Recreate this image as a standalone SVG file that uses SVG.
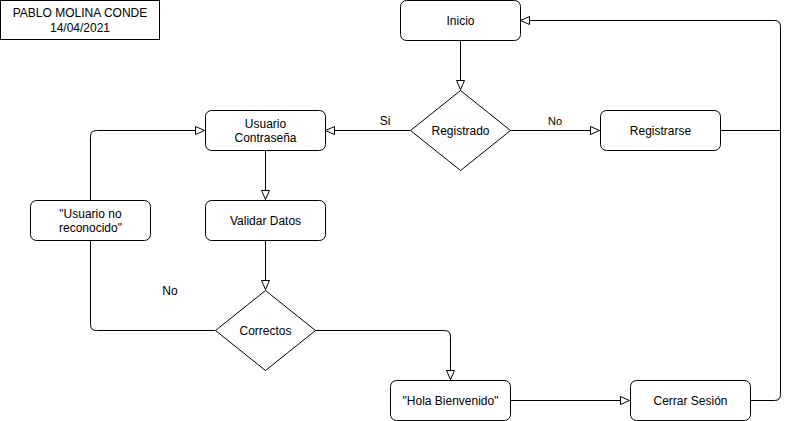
<svg xmlns="http://www.w3.org/2000/svg" width="789" height="421" viewBox="0 0 789 421">
<style>
.box{fill:#fff;stroke:#000;stroke-width:1}
.t{font-family:"Liberation Sans",Arial,sans-serif;font-size:12px;fill:#000;text-anchor:middle}
.s{font-size:11px}
.c{fill:none;stroke:#000;stroke-width:1}
</style>
<defs>
<marker id="a" markerUnits="userSpaceOnUse" markerWidth="12" markerHeight="12" refX="9.5" refY="4" orient="auto" overflow="visible">
<path d="M0.5,0 L9.5,4 L0.5,8 Z" fill="#fff" stroke="#000" stroke-width="1"/>
</marker>
</defs>
<rect width="789" height="421" fill="#fff"/>
<g id="connectors">
<path class="c" d="M460.5,40 V89.5" marker-end="url(#a)"/>
<path class="c" d="M410,130.5 H325.5" marker-end="url(#a)"/>
<path class="c" d="M510,130.5 H599.5" marker-end="url(#a)"/>
<path class="c" d="M720,130.5 H780.5"/>
<path class="c" d="M750,400.5 H774.5 Q780.5,400.5 780.5,394.5 V26.5 Q780.5,20.5 774.5,20.5 H520.5" marker-end="url(#a)"/>
<path class="c" d="M265.5,150 V199.5" marker-end="url(#a)"/>
<path class="c" d="M265.5,240 V289.5" marker-end="url(#a)"/>
<path class="c" d="M215,330.5 H96.5 Q90.5,330.5 90.5,324.5 V240"/>
<path class="c" d="M90.5,200 V136.5 Q90.5,130.5 96.5,130.5 H204.5" marker-end="url(#a)"/>
<path class="c" d="M315,330.5 H444.5 Q450.5,330.5 450.5,336.5 V379.5" marker-end="url(#a)"/>
<path class="c" d="M510,400.5 H629.5" marker-end="url(#a)"/>
<text class="t" x="385" y="125">Si</text>
<text class="t s" x="555" y="125">No</text>
<text class="t" x="170" y="295">No</text>
</g>
<g id="author">
<rect class="box" x="0.5" y="0.5" width="159" height="39"/>
<text class="t" x="80" y="17">PABLO MOLINA CONDE</text>
<text class="t" x="80" y="32">14/04/2021</text>
</g>
<g id="inicio">
<rect class="box" x="400.5" y="0.5" width="120" height="40" rx="6"/>
<text class="t" x="460.5" y="25">Inicio</text>
</g>
<g id="registrado">
<path class="box" d="M460.5,90.5 L510.5,130.5 L460.5,170.5 L410.5,130.5 Z"/>
<text class="t" x="460.5" y="135">Registrado</text>
</g>
<g id="registrarse">
<rect class="box" x="600.5" y="110.5" width="120" height="40" rx="6"/>
<text class="t" x="660.5" y="135">Registrarse</text>
</g>
<g id="usuario">
<rect class="box" x="205.5" y="110.5" width="120" height="40" rx="6"/>
<text class="t" x="265.5" y="128">Usuario</text>
<text class="t" x="265.5" y="142">Contraseña</text>
</g>
<g id="validar">
<rect class="box" x="205.5" y="200.5" width="120" height="40" rx="6"/>
<text class="t" x="265.5" y="225">Validar Datos</text>
</g>
<g id="noreconocido">
<rect class="box" x="30.5" y="200.5" width="120" height="40" rx="6"/>
<text class="t" x="90.5" y="218">"Usuario no</text>
<text class="t" x="90.5" y="232">reconocido"</text>
</g>
<g id="correctos">
<path class="box" d="M265.5,290.5 L315.5,330.5 L265.5,370.5 L215.5,330.5 Z"/>
<text class="t" x="265.5" y="335">Correctos</text>
</g>
<g id="hola">
<rect class="box" x="390.5" y="380.5" width="120" height="40" rx="6"/>
<text class="t" x="450.5" y="405">"Hola Bienvenido"</text>
</g>
<g id="cerrar">
<rect class="box" x="630.5" y="380.5" width="120" height="40" rx="6"/>
<text class="t" x="690.5" y="405">Cerrar Sesión</text>
</g>
</svg>
